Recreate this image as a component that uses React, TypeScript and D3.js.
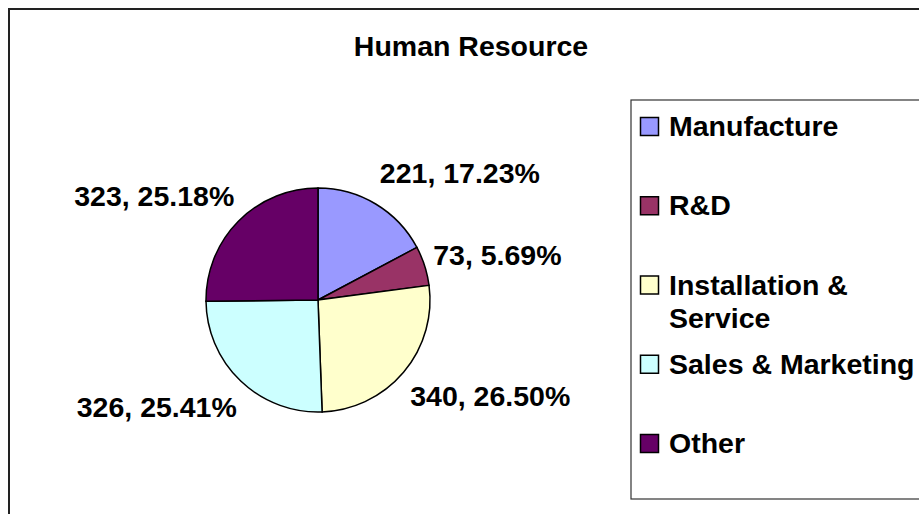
import React from "react";
import * as d3 from "d3";

const categories = ["Manufacture", "R&D", "Installation & Service", "Sales & Marketing", "Other"];
const legendLines = [["Manufacture"], ["R&D"], ["Installation &", "Service"], ["Sales & Marketing"], ["Other"]];
const values = [221, 73, 340, 326, 323];
const percentLabels = ["17.23%", "5.69%", "26.50%", "25.41%", "25.18%"];
const colors = ["#9999FF", "#993366", "#FFFFCC", "#CCFFFF", "#660066"];
const title = "Human Resource";

const W = 919;
const H = 514;
const FONT = "'Liberation Sans', Arial, sans-serif";
const FS = 28.5;

export default function App() {
  const cx = 318;
  const cy = 300;
  const r = 112;
  const pie = d3.pie<number>().sort(null).value((d) => d);
  const arcs = pie(values);
  const arcGen = d3.arc<d3.PieArcDatum<number>>().innerRadius(0).outerRadius(r);

  const legendY = d3.scalePoint<string>().domain(categories).range([136, 453]);

  return (
    <svg
      width={W}
      height={H}
      style={{ position: "absolute", left: 0, top: 0, background: "#fff" }}
      fontFamily={FONT}
    >
      <rect x={0} y={0} width={W} height={H} fill="#fff" />
      <rect x={9} y={9} width={960} height={560} fill="none" stroke="#222" strokeWidth={2} />
      <text x={471} y={56} textAnchor="middle" fontSize={FS} fontWeight="bold" fill="#000">
        {title}
      </text>
      <g transform={`translate(${cx},${cy})`}>
        {arcs.map((a, i) => (
          <path key={i} d={arcGen(a) || ""} fill={colors[i]} stroke="#000" strokeWidth={1.5} />
        ))}
        {arcs.map((a, i) => {
          const mid = (a.startAngle + a.endAngle) / 2;
          const s = Math.sin(mid);
          const c = Math.cos(mid);
          const px = (r + 10) * s;
          const py = -(r + 10) * c;
          const yc = py - c * 26;
          return (
            <text
              key={"l" + i}
              x={px + (s >= 0 ? -1 : 3)}
              y={yc + 10}
              textAnchor={s >= 0 ? "start" : "end"}
              fontSize={FS}
              fontWeight="bold"
              fill="#000"
            >
              {`${values[i]}, ${percentLabels[i]}`}
            </text>
          );
        })}
      </g>
      <rect x={631} y={100} width={400} height={399} fill="#fff" stroke="#333" strokeWidth={1.2} />
      {categories.map((cat, i) => {
        const by = legendY(cat) as number;
        return (
          <g key={cat}>
            <rect x={640.5} y={by - 18.5} width={18} height={18} fill={colors[i]} stroke="#000" strokeWidth={1.5} />
            <text x={669} y={by} fontSize={FS} fontWeight="bold" fill="#000">
              {legendLines[i].map((ln, j) => (
                <tspan key={j} x={669} dy={j === 0 ? 0 : 33}>
                  {ln}
                </tspan>
              ))}
            </text>
          </g>
        );
      })}
    </svg>
  );
}
